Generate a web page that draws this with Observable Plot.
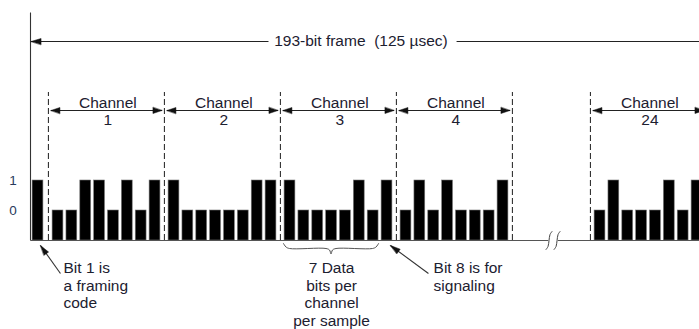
<!DOCTYPE html>
<html><head><meta charset="utf-8">
<script src="https://cdn.jsdelivr.net/npm/d3@7"></script>
<script src="https://cdn.jsdelivr.net/npm/@observablehq/plot@0.6"></script>
<style>
html,body{margin:0;padding:0;background:#fff;}
#chart svg{display:block;}
</style></head><body><div id="chart"></div>
<script>
// ---------------- data ----------------
const channels = ["1", "2", "3", "4", "24"];
const framingBit = [1];
const ch1Bits = [0, 0, 1, 1, 0, 1, 0, 1];
const ch2Bits = [1, 0, 0, 0, 0, 0, 1, 1];
const ch3Bits = [1, 0, 0, 0, 0, 1, 0, 1];
const ch4Bits = [0, 1, 0, 1, 0, 0, 0, 1];
const ch24Bits = [0, 1, 0, 0, 0, 1, 0, 1];
const levelLabels = ["0", "1"];
const frameLabel = "193-bit frame  (125 \u00b5sec)";
const channelWord = "Channel";
const noteFraming = "Bit 1 is\na framing\ncode";
const noteData = "7 Data\nbits per\nchannel\nper sample";
const noteSignal = "Bit 8 is for\nsignaling";

// ---------------- layout (x in bit slots, y in signal levels) ----------------
const W = 699, H = 329;
const PX_BIT = 13.86, PX_LEVEL = 30;
const X0_PX = 37.5, Y0_PX = 240;
const xDomain = [-X0_PX / PX_BIT, (W - X0_PX) / PX_BIT];
const yDomain = [(Y0_PX - H) / PX_LEVEL, Y0_PX / PX_LEVEL];
const FRAMING_X = 0;
const CH1_START = 1.443, CH_PITCH = 8.369, BREAK_GAP = 5.63;
const chStart = i => CH1_START + i * CH_PITCH + (i === 4 ? BREAK_GAP : 0);
const BOUND_BEFORE = 0.69, BOUND_AFTER = 7.68;
const HALF_BAR = 0.39;
const TEXT = "#1c2030";
const FS = 15.5;
// offset a point by screen pixels
const P = (x, y, ox = 0, oy = 0) => ({x: x + ox / PX_BIT, y: y - oy / PX_LEVEL});

function head(tip, dirX, dirY, len, half, id) {
  const n = Math.hypot(dirX, dirY), ux = dirX / n, uy = dirY / n;
  const bx = -ux * len, by = -uy * len;
  return [
    {...P(tip.x, tip.y), id},
    {...P(tip.x, tip.y, bx - uy * half, by + ux * half), id},
    {...P(tip.x, tip.y, bx + uy * half, by - ux * half), id}
  ];
}

// bars
const channelBits = [ch1Bits, ch2Bits, ch3Bits, ch4Bits, ch24Bits];
const bars = [{x: FRAMING_X, v: framingBit[0]}]
  .concat(channelBits.flatMap((b, i) => b.map((v, j) => ({x: chStart(i) + j, v}))));

// structural lines
const VLINE_X = (30 - X0_PX) / PX_BIT, VLINE_TOP = (Y0_PX - 12) / PX_LEVEL;
const BREAK_A = 36.87, BREAK_B = 37.45;
const xEnd = xDomain[1] + 1;
const lines = [
  {x1: VLINE_X, y1: 0, x2: VLINE_X, y2: VLINE_TOP, c: "#333"},
  {x1: VLINE_X, y1: 0, x2: BREAK_A - 0.05, y2: 0, c: "#555"},
  {x1: BREAK_B + 0.05, y1: 0, x2: xEnd, y2: 0, c: "#555"}
];

// frame arrow
const FRAME_Y = (Y0_PX - 41) / PX_LEVEL;
const FRAME_TIP = VLINE_X + 0.04;
const FRAME_TEXT_X = 23.3, FRAME_TEXT_L = 16.63, FRAME_TEXT_R = 30.2;
lines.push({x1: FRAME_TIP, y1: FRAME_Y, x2: FRAME_TEXT_L, y2: FRAME_Y, c: "#222"});
lines.push({x1: FRAME_TEXT_R, y1: FRAME_Y, x2: xEnd, y2: FRAME_Y, c: "#222"});
let heads = head({x: FRAME_TIP, y: FRAME_Y}, -1, 0, 10, 3, "frame");

// channel boundaries and arrows
const DASH_TOP = (Y0_PX - 92) / PX_LEVEL;
const boundaries = channels.map((_, i) => chStart(i) - BOUND_BEFORE).concat([chStart(3) + BOUND_AFTER]);
const CH_ARROW_Y = (Y0_PX - 110) / PX_LEVEL;
channels.forEach((c, i) => {
  const a = chStart(i) - BOUND_BEFORE + 2.5 / PX_BIT, b = chStart(i) + BOUND_AFTER - 2.5 / PX_BIT;
  lines.push({x1: a, y1: CH_ARROW_Y, x2: b, y2: CH_ARROW_Y, c: "#222"});
  heads = heads.concat(head({x: a, y: CH_ARROW_Y}, -1, 0, 9, 3, "l" + c), head({x: b, y: CH_ARROW_Y}, 1, 0, 9, 3, "r" + c));
});
const CH_TEXT_Y = (Y0_PX - 96.7) / PX_LEVEL, CH_NUM_Y = (Y0_PX - 113.3) / PX_LEVEL;
const chLabels = channels.map((c, i) => ({x: chStart(i) + 3.6, c}));

// annotation arrows
const ANN_HEAD_Y = (Y0_PX - 245) / PX_LEVEL, ANN_TAIL_Y = (Y0_PX - 273) / PX_LEVEL;
const annArrows = [
  {x1: FRAMING_X + 1.62, y1: ANN_TAIL_Y, x2: FRAMING_X + 0.18, y2: ANN_HEAD_Y, id: "a1"},
  {x1: chStart(2) + 7 + 2.99, y1: ANN_TAIL_Y, x2: chStart(2) + 7 + 0.25, y2: ANN_HEAD_Y, id: "a8"}
];
annArrows.forEach(a => {
  const dxp = (a.x2 - a.x1) * PX_BIT, dyp = -(a.y2 - a.y1) * PX_LEVEL;
  lines.push({...a, c: "#333"});
  heads = heads.concat(head({x: a.x2, y: a.y2}, dxp, dyp, 10, 2.8, a.id));
});

// brace under 7 data bits of channel 3
const BL = chStart(2) - 0.47, BR = chStart(2) + 6 + 0.39, BM = (BL + BR) / 2;
const BTOP = (Y0_PX - 243) / PX_LEVEL;
const brace = [
  P(BL, BTOP), P(BL, BTOP, 2.5, 3.5), P(BL, BTOP, 6, 5), P(BM, BTOP, -5, 5), P(BM, BTOP, -1.5, 6.5), P(BM, BTOP, 0, 10.5),
  P(BM, BTOP, 1.5, 6.5), P(BM, BTOP, 5, 5), P(BR, BTOP, -6, 5), P(BR, BTOP, -2.5, 3.5), P(BR, BTOP)
];

// break marks on baseline
const breakMarks = [BREAK_A, BREAK_B].flatMap((bx, k) =>
  [[3, -9], [1, -6], [0, 0], [-1, 6], [-3, 9]].map(([ox, oy]) => ({...P(bx, 0, ox, oy), k})));

// notes
const NOTE_Y = (Y0_PX - 260.5) / PX_LEVEL;
const NOTE_LH = 1.13;

const chart = Plot.plot({
  width: W, height: H, margin: 0,
  x: {domain: xDomain, axis: null},
  y: {domain: yDomain, axis: null},
  style: {fontFamily: "'Liberation Sans', Arial, sans-serif", background: "#fff", overflow: "hidden"},
  marks: [
    Plot.ruleX(boundaries, {y1: 0, y2: DASH_TOP, stroke: "#333", strokeWidth: 1.1, strokeDasharray: "6,3"}),
    Plot.rect(bars, {x1: d => d.x - HALF_BAR, x2: d => d.x + HALF_BAR, y1: 0, y2: d => d.v + 1, fill: "#000", stroke: "#777", strokeWidth: 0.6}),
    Plot.link(lines, {x1: "x1", y1: "y1", x2: "x2", y2: "y2", stroke: d => d.c, strokeWidth: 1.1}),
    Plot.line(heads, {x: "x", y: "y", z: "id", fill: "#111", stroke: "#111", strokeWidth: 0.5, curve: "linear-closed"}),
    Plot.line(brace, {x: "x", y: "y", stroke: "#555", strokeWidth: 1, curve: "catmull-rom"}),
    Plot.line(breakMarks, {x: "x", y: "y", z: "k", stroke: "#444", strokeWidth: 1, curve: "catmull-rom"}),
    Plot.text([frameLabel], {x: FRAME_TEXT_X, y: FRAME_Y + 0.213, text: d => d, fontSize: FS, lineAnchor: "top", fill: TEXT}),
    Plot.text(chLabels, {x: "x", y: CH_TEXT_Y, text: () => channelWord, fontSize: FS, lineAnchor: "top", fill: TEXT}),
    Plot.text(chLabels, {x: "x", y: CH_NUM_Y, text: "c", fontSize: FS, lineAnchor: "top", fill: TEXT}),
    Plot.text(levelLabels, {x: -1.8, y: (d, i) => i + 1, text: d => d, fontSize: 13.5, lineAnchor: "middle", fill: "#283a5c"}),
    Plot.text([noteFraming], {x: 1.84, y: NOTE_Y, text: d => d, textAnchor: "start", fontSize: FS, lineAnchor: "top", lineHeight: NOTE_LH, fill: TEXT}),
    Plot.text([noteData], {x: chStart(2) + 3, y: NOTE_Y, text: d => d, textAnchor: "middle", fontSize: FS, lineAnchor: "top", lineHeight: NOTE_LH, fill: TEXT}),
    Plot.text([noteSignal], {x: 28.54, y: NOTE_Y, text: d => d, textAnchor: "start", fontSize: FS, lineAnchor: "top", lineHeight: NOTE_LH, fill: TEXT})
  ]
});
document.getElementById("chart").appendChild(chart);
</script>
</body></html>
